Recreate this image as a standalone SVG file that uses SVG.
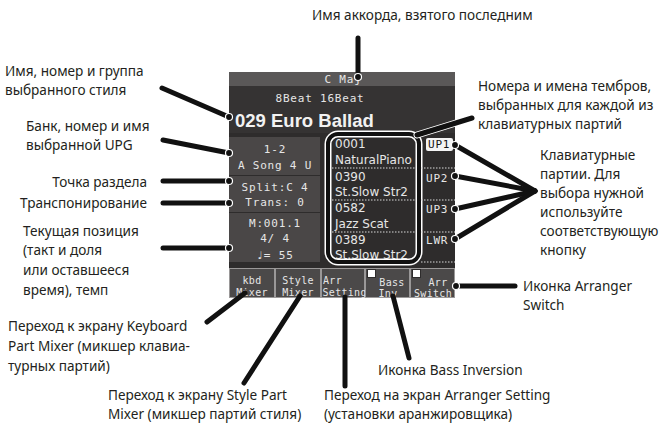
<svg xmlns="http://www.w3.org/2000/svg" width="663" height="425" viewBox="0 0 663 425">
<defs>
<style>
.lbl{font-family:"Noto Sans","Liberation Sans",sans-serif;font-size:13.6px;fill:#231f20}
.lcd{font-family:"DejaVu Sans Mono","Liberation Mono",monospace;font-size:11px;fill:#e6e6e6;letter-spacing:0.8px}
.bt{font-family:"DejaVu Sans Mono","Liberation Mono",monospace;font-size:10px;fill:#e6e6e6;letter-spacing:0.3px}
.tone{font-family:"DejaVu Sans","Liberation Sans",sans-serif;font-size:12px;fill:#e6e6e6}
.ld{stroke:#111;stroke-width:5;stroke-linecap:round;fill:none}
.dot{fill:#111;stroke:#fff;stroke-width:1.2}
.btn{fill:#4b4949;stroke:#9a9898;stroke-width:1}
.dash{stroke:#d8d8d8;stroke-width:1.2;stroke-dasharray:1.5 1.5}
</style>
<clipPath id="toneclip"><rect x="329" y="135" width="89" height="126" rx="9"/></clipPath>
<clipPath id="rcol"><rect x="420" y="133" width="35" height="132"/></clipPath>
</defs>

<g id="screen">
<rect x="229" y="72" width="226" height="226" fill="#2e2c2c"/>
<rect x="229" y="72" width="226" height="14" fill="#5a5858"/>
<text class="lcd" x="343" y="83" text-anchor="middle">C Maj</text>
<rect x="229" y="86" width="226" height="47" fill="#353333"/>
<text class="lcd" x="320" y="102" text-anchor="middle">8Beat 16Beat</text>
<text x="235" y="127" font-family="Liberation Sans,Arial,sans-serif" font-weight="bold" font-size="18.5" fill="#f2f2f2">029 Euro Ballad</text>
</g>

<g id="upg">
<rect x="229" y="137" width="91" height="38" fill="#4a4747"/>
<text class="lcd" x="275" y="153" text-anchor="middle">1-2</text>
<text class="lcd" x="275" y="169" text-anchor="middle">A Song 4 U</text>
</g>
<g id="split-trans">
<rect x="229" y="176" width="91" height="36" fill="#4a4747"/>
<text class="lcd" x="275" y="191" text-anchor="middle">Split:C 4</text>
<text class="lcd" x="275" y="206" text-anchor="middle">Trans: 0</text>
</g>
<g id="position">
<rect x="229" y="213" width="91" height="49" fill="#4a4747"/>
<text class="lcd" x="275" y="227" text-anchor="middle">M:001.1</text>
<text class="lcd" x="275" y="242" text-anchor="middle">4/ 4</text>
<text class="lcd" x="275" y="259" text-anchor="middle">♩=  55</text>
</g>

<g id="tones">
<g clip-path="url(#toneclip)">
<rect x="329" y="135" width="89" height="126" fill="#2e2c2c"/>
<text class="tone" x="335" y="148">0001</text>
<text class="tone" x="335" y="164">NaturalPiano</text>
<line class="dash" x1="329" y1="168" x2="420" y2="168"/>
<text class="tone" x="335" y="181">0390</text>
<text class="tone" x="335" y="196">St.Slow Str2</text>
<line class="dash" x1="329" y1="200" x2="420" y2="200"/>
<text class="tone" x="335" y="212">0582</text>
<text class="tone" x="335" y="228">Jazz Scat</text>
<line class="dash" x1="329" y1="232" x2="420" y2="232"/>
<text class="tone" x="335" y="244">0389</text>
<text class="tone" x="335" y="259">St.Slow Str2</text>
</g>
<rect x="328" y="134" width="91" height="128" rx="10" fill="none" stroke="#fff" stroke-width="7"/>
<rect x="328" y="134" width="91" height="128" rx="10" fill="none" stroke="#111" stroke-width="4"/>
</g>

<g id="parts">
<g clip-path="url(#rcol)">
<rect x="426" y="138" width="27" height="13" rx="2" fill="#f4f4f4"/>
<text class="lcd" x="428" y="148" style="fill:#111">UP1</text>
<line class="dash" x1="421" y1="168" x2="455" y2="168"/>
<text class="lcd" x="426" y="182">UP2</text>
<line class="dash" x1="421" y1="200" x2="455" y2="200"/>
<text class="lcd" x="426" y="213">UP3</text>
<line class="dash" x1="421" y1="232" x2="455" y2="232"/>
<text class="lcd" x="426" y="244">LWR</text>
<line class="dash" x1="421" y1="262" x2="455" y2="262"/>
</g>
</g>

<g id="buttons">
<g id="btn-kbd"><rect class="btn" x="229.5" y="268.5" width="45" height="29"/>
<text class="bt" x="252" y="284" text-anchor="middle">kbd</text>
<text class="bt" x="252" y="296" text-anchor="middle">Mixer</text></g>
<g id="btn-style"><rect class="btn" x="275.5" y="268.5" width="45" height="29"/>
<text class="bt" x="298" y="284" text-anchor="middle">Style</text>
<text class="bt" x="298" y="296" text-anchor="middle">Mixer</text></g>
<g id="btn-arr"><rect class="btn" x="321.5" y="268.5" width="43" height="29"/>
<text class="bt" x="323" y="284">Arr</text>
<text class="bt" x="322.5" y="296">Setting</text></g>
<g id="btn-bass"><rect class="btn" x="365.5" y="268.5" width="44" height="29"/>
<rect x="367.5" y="269.5" width="8" height="8" fill="#fff" stroke="#2e2c2c" stroke-width="1"/>
<text class="bt" x="392" y="286" text-anchor="middle">Bass</text>
<text class="bt" x="388" y="297" text-anchor="middle">Inv</text></g>
<g id="btn-switch"><rect class="btn" x="410.5" y="268.5" width="44" height="29"/>
<rect x="412.5" y="269.5" width="8" height="8" fill="#fff" stroke="#2e2c2c" stroke-width="1"/>
<text class="bt" x="438" y="286" text-anchor="middle">Arr</text>
<text class="bt" x="433" y="297" text-anchor="middle">Switch</text></g>
</g>

<g id="connectors">
<line class="ld" x1="358" y1="38" x2="358" y2="76"/><circle class="dot" cx="358" cy="77" r="3.5"/>
<line class="ld" x1="162" y1="88" x2="229" y2="117"/><circle class="dot" cx="229" cy="117" r="3.5"/>
<line class="ld" x1="163" y1="140" x2="229" y2="153"/><circle class="dot" cx="229" cy="153" r="3.5"/>
<line class="ld" x1="163" y1="181" x2="229" y2="181"/><circle class="dot" cx="229" cy="181" r="3.5"/>
<line class="ld" x1="163" y1="203" x2="229" y2="203"/><circle class="dot" cx="229" cy="203" r="3.5"/>
<line class="ld" x1="163" y1="248" x2="229" y2="248"/><circle class="dot" cx="229" cy="248" r="3.5"/>
<line class="ld" x1="245" y1="293" x2="207" y2="322"/>
<line class="ld" x1="300" y1="296" x2="244" y2="383"/>
<line class="ld" x1="345" y1="297" x2="345" y2="386"/>
<line class="ld" x1="393" y1="296" x2="409" y2="358"/>
<line class="ld" x1="456" y1="286" x2="515" y2="286"/><circle class="dot" cx="456" cy="286" r="3.5"/>
<line x1="417" y1="135" x2="472" y2="118" stroke="#fff" stroke-width="7" stroke-linecap="round"/>
<line class="ld" x1="417" y1="135" x2="472" y2="118"/>
<line class="ld" x1="455" y1="145" x2="535" y2="191"/><circle class="dot" cx="455" cy="145" r="3.5"/>
<line class="ld" x1="455" y1="176" x2="535" y2="191"/><circle class="dot" cx="455" cy="176" r="3.5"/>
<line class="ld" x1="455" y1="209" x2="535" y2="191"/><circle class="dot" cx="455" cy="209" r="3.5"/>
<line class="ld" x1="455" y1="239" x2="535" y2="191"/><circle class="dot" cx="455" cy="239" r="3.5"/>
</g>

<g id="labels">
<text class="lbl" x="312" y="20">Имя аккорда, взятого последним</text>
<text class="lbl" x="5" y="76">Имя, номер и группа</text>
<text class="lbl" x="5" y="95">выбранного стиля</text>
<text class="lbl" x="26" y="131">Банк, номер и имя</text>
<text class="lbl" x="26" y="150">выбранной UPG</text>
<text class="lbl" x="147" y="187" text-anchor="end">Точка раздела</text>
<text class="lbl" x="147" y="208" text-anchor="end">Транспонирование</text>
<text class="lbl" x="23" y="236">Текущая позиция</text>
<text class="lbl" x="23" y="255">(такт и доля</text>
<text class="lbl" x="23" y="275">или оставшееся</text>
<text class="lbl" x="23" y="295">время), темп</text>
<text class="lbl" x="478" y="91">Номера и имена тембров,</text>
<text class="lbl" x="478" y="110">выбранных для каждой из</text>
<text class="lbl" x="478" y="129">клавиатурных партий</text>
<text class="lbl" x="540" y="160">Клавиатурные</text>
<text class="lbl" x="540" y="179">партии. Для</text>
<text class="lbl" x="540" y="198">выбора нужной</text>
<text class="lbl" x="540" y="217">используйте</text>
<text class="lbl" x="540" y="236">соответствующую</text>
<text class="lbl" x="540" y="255">кнопку</text>
<text class="lbl" x="523" y="291">Иконка Arranger</text>
<text class="lbl" x="523" y="310">Switch</text>
<text class="lbl" x="8" y="331">Переход к экрану Keyboard</text>
<text class="lbl" x="8" y="351">Part Mixer (микшер клавиа-</text>
<text class="lbl" x="8" y="371">турных партий)</text>
<text class="lbl" x="378" y="375">Иконка Bass Inversion</text>
<text class="lbl" x="108" y="400">Переход к экрану Style Part</text>
<text class="lbl" x="108" y="419">Mixer (микшер партий стиля)</text>
<text class="lbl" x="324" y="400">Переход на экран Arranger Setting</text>
<text class="lbl" x="324" y="419">(установки аранжировщика)</text>
</g>
</svg>
